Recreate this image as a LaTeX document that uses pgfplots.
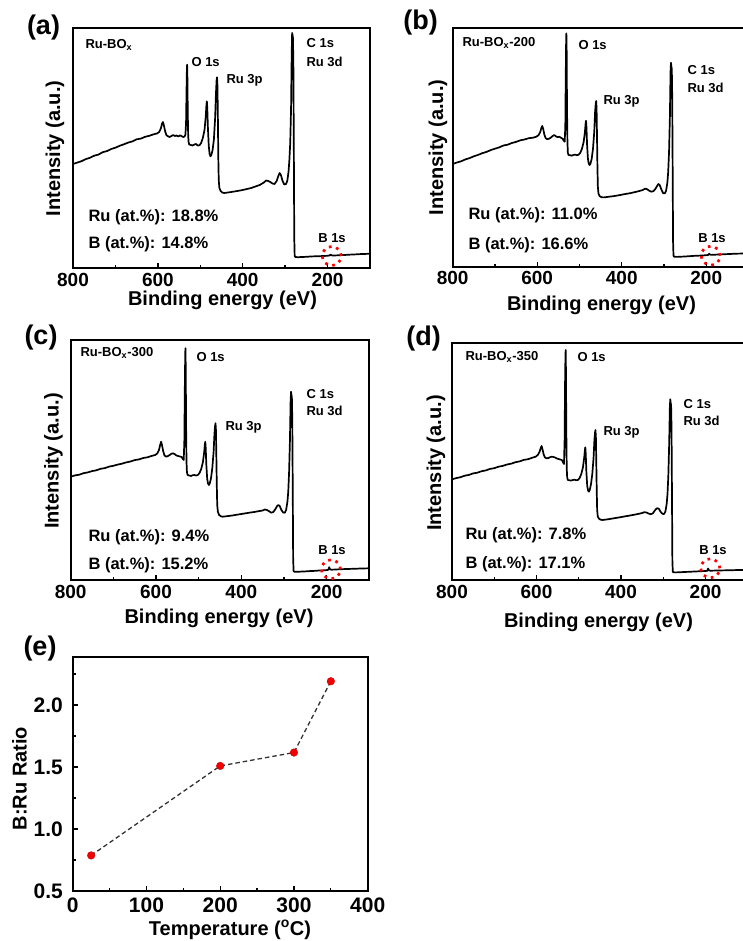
\documentclass[border=0pt]{standalone}
\usepackage{fontspec}
\setmainfont{Liberation Sans}
\usepackage{pgfplots}
\pgfplotsset{compat=1.18}
\newcommand{\fs}[1]{\fontsize{#1}{#1}\selectfont\bfseries}
\pgfplotsset{
  spec/.style={
    scale only axis, anchor=south west,
    x dir=reverse, xmin=100, xmax=800, ymin=0,
    xtick={200,400,600,800}, minor xtick={300,500,700}, ytick=\empty,
    xtick pos=lower, tick align=inside,
    major tick length=5pt, minor tick length=3pt,
    every tick/.append style={line width=1.3pt, black},
    axis line style={line width=1.7pt},
    xticklabel style={font=\fs{19}, inner sep=0pt, yshift=-4.7pt},
    /pgf/number format/assume math mode=true,
    clip=true,
  },
  spectrum/.style={black, line width=1.7pt, line join=round, no marks},
}
\tikzset{ring/.style={red, line width=2.7pt, dash pattern=on 2.7pt off 4.8pt}}
\begin{document}
\begin{tikzpicture}
\useasboundingbox (0pt,0pt) rectangle (743pt,-941pt);
\clip (0pt,0pt) rectangle (743pt,-941pt);
% ---------------- (a)
\begin{axis}[spec, at={(73pt,-268pt)}, width=297pt, height=239.7pt, ymax=239.7]
\addplot[spectrum] table {
800 104.0
790 105.4
780 106.8
770 108.9
760 110.2
750 112.3
740 113.4
730 115.8
720 116.9
710 119.0
700 120.3
690 122.2
680 123.7
670 125.4
660 126.6
650 128.7
640 129.4
630 131.2
620 132.2
610 133.7
602 134.5
597 136.0
593 139.5
590 144.5
588 146.0
586 143.0
583 137.0
580 133.0
576 131.7
572 131.0
568 132.0
564 133.0
560 132.0
556 132.5
552 131.5
548 132.6
544 131.8
540 131.0
537 131.5
535 133.5
533.5 145
532.5 175
531.5 200
531 203.3
530.3 190
529.5 155
528.5 132
527.5 126
526 123.5
522 123.0
518 122.5
514 123.5
510 124.0
506 122.5
502 122.7
498 125.0
494 130.0
490 138.0
487 152.0
485.5 163.0
484.5 166.7
483.5 160.0
482 140.0
480 122.0
478 114.0
476 111.7
474 113.0
471 118.0
468 128.0
465 150.0
463 175.0
461.5 188.0
460.5 190.7
459.5 182.0
458.5 150.0
457.5 110.0
456.5 88.0
455 80.0
452 77.0
448 75.5
444 75.0
440 75.2
430 75.8
420 76.5
410 77.2
400 78.0
390 79.0
380 80.0
370 81.5
360 83.0
350 85.5
345 87.5
340 87.0
335 86.0
330 84.5
325 84.0
320 87.0
316 92.0
313 95.0
310 93.0
306 87.0
302 83.5
298 84.0
295 87.0
292 96.0
290 108.0
288 125.0
286 160.0
284.5 215.0
283.5 235.0
282.5 233.0
281.5 230.0
280.5 200.0
279.5 120.0
278.5 30.0
277.5 12.0
276 11.0
270 10.8
260 11.0
250 11.2
240 11.5
230 11.7
220 11.8
210 12.0
200 12.2
195 12.6
193 13.5
191 12.8
188 12.4
180 12.6
170 12.8
160 13.0
150 13.3
140 13.5
130 13.7
120 14.0
110 14.1
100 14.3
};
\end{axis}
% ---------------- (b)
\begin{axis}[spec, at={(452.7pt,-266.7pt)}, width=295.8pt, height=238.4pt, ymax=238.4]
\addplot[spectrum] table {
800 102.7
790 104.2
780 105.4
770 107.3
760 108.6
750 110.4
740 111.8
730 113.5
720 114.8
710 116.6
700 118.0
690 119.3
680 121.2
670 122.0
660 123.7
650 124.8
640 126.4
630 127.2
620 128.5
610 129.0
602 130.0
597 131.5
593 134.5
590 139.0
588 140.7
586 138.0
583 132.0
580 128.5
576 127.5
572 128.0
568 129.0
564 130.5
560 131.7
556 130.5
552 129.5
548 130.0
544 129.0
540 128.0
537 126.0
535 125.0
533.5 140
532.5 190
531.5 228
531 233.3
530.3 215
529.5 160
528.5 125
527.5 114
526 111.7
522 111.5
518 111.0
514 111.8
510 112.0
506 111.5
502 112.0
498 114.0
494 118.0
490 125.0
487 135.0
485.5 143.0
484.5 146.0
483.5 140.0
482 122.0
480 108.0
478 103.0
476 101.7
474 103.0
471 108.0
468 118.0
465 135.0
463 155.0
461.5 163.0
460.5 165.7
459.5 158.0
458.5 130.0
457.5 100.0
456.5 80.0
455 73.0
452 70.5
448 69.5
444 69.3
440 69.4
430 70.0
420 70.5
410 71.2
400 72.0
390 72.8
380 73.5
370 74.5
360 75.5
350 76.7
345 78.0
340 77.5
335 76.0
330 75.0
325 75.5
320 78.0
316 81.0
313 82.7
310 81.5
306 77.0
302 73.5
298 73.3
295 76.0
292 84.0
290 95.0
288 115.0
286 150.0
284.5 195.0
283.5 204.0
282.5 200.0
281.5 198.0
280.5 170.0
279.5 100.0
278.5 25.0
277.5 11.0
276 10.0
270 9.8
260 10.0
250 10.2
240 10.5
230 10.8
220 11.0
210 11.2
200 11.5
195 11.8
193 13.0
191 12.2
188 11.8
180 12.0
170 12.2
160 12.4
150 12.6
140 12.8
130 13.0
120 13.1
110 13.2
100 13.3
};
\end{axis}
% ---------------- (c)
\begin{axis}[spec, at={(70.7pt,-580pt)}, width=298.6pt, height=240pt, ymax=240]
\addplot[spectrum] table {
800 103.3
790 104.6
780 105.3
770 106.8
760 107.6
750 108.9
740 109.7
730 111.2
720 111.9
710 113.4
700 114.2
690 115.4
680 116.3
670 117.6
660 118.5
650 119.9
640 120.6
630 122.0
620 122.7
610 124.1
602 125.0
597 126.5
593 130.0
590 135.5
588 138.3
586 135.0
583 128.5
580 124.5
576 123.3
572 124.0
568 125.0
564 126.2
560 126.7
556 125.8
552 124.5
548 124.0
544 123.5
540 123.0
537 121.0
535 120.0
533.5 140
532.5 190
531.5 226
531 231.7
530.3 212
529.5 155
528.5 118
527.5 108
526 105.0
522 104.5
518 104.0
514 104.8
510 105.0
506 104.5
502 105.0
498 107.0
494 111.0
490 118.0
487 128.0
485.5 135.5
484.5 138.3
483.5 132.0
482 115.0
480 101.0
478 96.5
476 95.0
474 96.5
471 102.0
468 112.0
465 128.0
463 146.0
461.5 154.0
460.5 156.7
459.5 150.0
458.5 122.0
457.5 95.0
456.5 75.0
455 68.3
452 65.0
448 63.8
444 63.3
440 63.5
430 64.0
420 64.6
410 65.3
400 66.0
390 66.7
380 67.4
370 68.0
360 68.8
350 69.5
345 70.5
340 70.0
335 68.8
330 67.3
325 68.0
320 71.0
316 74.0
313 75.0
310 74.0
306 70.0
302 67.5
298 67.3
295 70.0
292 78.0
290 88.0
288 108.0
286 140.0
284.5 178.0
283.5 188.3
282.5 185.0
281.5 183.0
280.5 160.0
279.5 95.0
278.5 22.0
277.5 9.0
276 8.3
270 8.2
260 8.4
250 8.6
240 8.9
230 9.1
220 9.4
210 9.6
200 9.9
196 10.2
194 12.8
192 10.6
188 10.3
180 10.5
170 10.7
160 10.9
150 11.0
140 11.2
130 11.3
120 11.5
110 11.6
100 11.7
};
\end{axis}
% ---------------- (d)
\begin{axis}[spec, at={(452pt,-580pt)}, width=295.8pt, height=237.3pt, ymax=237.3]
\addplot[spectrum] table {
800 100.7
790 101.9
780 102.8
770 104.3
760 105.1
750 106.6
740 107.3
730 108.8
720 109.6
710 111.1
700 111.8
690 113.3
680 114.1
670 115.5
660 116.3
650 117.8
640 118.6
630 120.1
620 120.8
610 122.3
602 123.3
597 125.0
593 128.0
590 132.0
588 134.0
586 131.0
583 125.5
580 122.5
576 121.7
572 122.0
568 122.8
564 123.3
560 123.0
556 122.5
552 121.5
548 121.0
544 120.5
540 120.0
537 117.5
535 116.0
533.5 140
532.5 195
531.5 225
531 230
530.3 208
529.5 150
528.5 112
527.5 103
526 100.0
522 99.7
518 99.5
514 100.0
510 100.3
506 99.8
502 100.0
498 102.0
494 106.0
490 113.0
487 123.0
485.5 130.0
484.5 132.7
483.5 126.0
482 108.0
480 94.0
478 89.5
476 88.3
474 90.0
471 96.0
468 106.0
465 122.0
463 140.0
461.5 147.5
460.5 150.0
459.5 143.0
458.5 116.0
457.5 90.0
456.5 70.0
455 63.3
452 61.2
448 60.3
444 60.0
440 60.2
430 60.8
420 61.5
410 62.2
400 62.9
390 63.7
380 64.4
370 65.2
360 66.0
350 67.0
345 67.8
340 67.5
335 66.5
330 65.8
325 66.5
320 69.5
316 71.5
313 71.7
310 71.0
306 68.0
302 66.2
298 66.0
295 68.5
292 76.0
290 86.0
288 105.0
286 137.0
284.5 172.0
283.5 180.7
282.5 177.0
281.5 175.0
280.5 152.0
279.5 90.0
278.5 20.0
277.5 8.2
276 7.7
270 7.6
260 7.8
250 8.0
240 8.2
230 8.4
220 8.6
210 8.8
200 9.0
196 9.2
194 11.5
192 9.6
188 9.3
180 9.4
170 9.5
160 9.6
150 9.7
140 9.8
130 9.9
120 10.0
110 10.0
100 10.0
};
\end{axis}
% ---------------- (e)
\begin{axis}[scale only axis, anchor=south west, at={(72.7pt,-891pt)},
  width=295pt, height=234.3pt,
  xmin=0, xmax=400, ymin=0.5, ymax=2.39,
  xtick={0,100,200,300,400}, minor xtick={50,150,250,350},
  ytick={0.5,1.0,1.5,2.0}, minor ytick={0.75,1.25,1.75,2.25},
  xtick pos=lower, ytick pos=left, tick align=inside,
  major tick length=5pt, minor tick length=3pt,
  every tick/.append style={line width=1.3pt, black},
  axis line style={line width=1.7pt},
  xticklabel style={font=\fs{21}, inner sep=0pt, yshift=-7pt},
  yticklabel style={font=\fs{21}, inner sep=0pt, xshift=-9.7pt,
    /pgf/number format/.cd, fixed, fixed zerofill, precision=1},
  /pgf/number format/assume math mode=true,
  clip=false]
\addplot[draw=black!80, line width=1.3pt, dash pattern=on 4.5pt off 3pt,
  mark=*, mark size=3.8pt, mark options={solid, fill=red!95!black, draw=red!80!black, line width=0.4pt}]
  coordinates {(25,0.787) (200,1.509) (300,1.617) (350,2.192)};
\end{axis}
% ---------------- texts (a)
\node[font=\fs{27}] at (43.5pt,-28pt) {(a)};
\node[font=\fs{13}, anchor=west] at (82pt,-45pt) {Ru-BO\textsubscript{x}};
\node[font=\fs{13}, anchor=west] at (188pt,-62pt) {O 1s};
\node[font=\fs{13}, anchor=west] at (223pt,-80pt) {Ru 3p};
\node[font=\fs{13}, anchor=west] at (303pt,-43pt) {C 1s};
\node[font=\fs{13}, anchor=west] at (303pt,-62pt) {Ru 3d};
\node[font=\fs{16.5}, anchor=west] at (85pt,-217.5pt) {Ru (at.\%): 18.8\%};
\node[font=\fs{16.5}, anchor=west] at (85pt,-244.5pt) {B (at.\%): 14.8\%};
\node[font=\fs{13}] at (332pt,-238pt) {B 1s};
\draw[ring] (331.7pt,-256pt) circle (9.5pt);
\node[font=\fs{20}, rotate=90] at (55pt,-148.5pt) {Intensity (a.u.)};
\node[font=\fs{20}] at (222.5pt,-300pt) {Binding energy (eV)};
% ---------------- texts (b)
\node[font=\fs{27}] at (420.5pt,-23pt) {(b)};
\node[font=\fs{13}, anchor=west] at (459pt,-43pt) {Ru-BO\textsubscript{x}-200};
\node[font=\fs{13}, anchor=west] at (575pt,-45pt) {O 1s};
\node[font=\fs{13}, anchor=west] at (600pt,-101pt) {Ru 3p};
\node[font=\fs{13}, anchor=west] at (684pt,-70pt) {C 1s};
\node[font=\fs{13}, anchor=west] at (684pt,-87.5pt) {Ru 3d};
\node[font=\fs{16.5}, anchor=west] at (465pt,-215.5pt) {Ru (at.\%): 11.0\%};
\node[font=\fs{16.5}, anchor=west] at (465pt,-245pt) {B (at.\%): 16.6\%};
\node[font=\fs{13}] at (712pt,-238pt) {B 1s};
\draw[ring] (710.7pt,-255.7pt) circle (9.5pt);
\node[font=\fs{20}, rotate=90] at (438pt,-147.5pt) {Intensity (a.u.)};
\node[font=\fs{20}] at (601.5pt,-305pt) {Binding energy (eV)};
% ---------------- texts (c)
\node[font=\fs{27}] at (41pt,-338pt) {(c)};
\node[font=\fs{13}, anchor=west] at (77pt,-353pt) {Ru-BO\textsubscript{x}-300};
\node[font=\fs{13}, anchor=west] at (193pt,-357.5pt) {O 1s};
\node[font=\fs{13}, anchor=west] at (222pt,-427.5pt) {Ru 3p};
\node[font=\fs{13}, anchor=west] at (303pt,-394pt) {C 1s};
\node[font=\fs{13}, anchor=west] at (303pt,-411pt) {Ru 3d};
\node[font=\fs{16.5}, anchor=west] at (85pt,-537.5pt) {Ru (at.\%): 9.4\%};
\node[font=\fs{16.5}, anchor=west] at (85pt,-565pt) {B (at.\%): 15.2\%};
\node[font=\fs{13}] at (332pt,-550pt) {B 1s};
\draw[ring] (331pt,-569.3pt) circle (9.5pt);
\node[font=\fs{20}, rotate=90] at (53.5pt,-461pt) {Intensity (a.u.)};
\node[font=\fs{20}] at (219pt,-618pt) {Binding energy (eV)};
% ---------------- texts (d)
\node[font=\fs{27}] at (423.5pt,-339pt) {(d)};
\node[font=\fs{13}, anchor=west] at (462pt,-357pt) {Ru-BO\textsubscript{x}-350};
\node[font=\fs{13}, anchor=west] at (574pt,-357pt) {O 1s};
\node[font=\fs{13}, anchor=west] at (600pt,-432.5pt) {Ru 3p};
\node[font=\fs{13}, anchor=west] at (680pt,-404pt) {C 1s};
\node[font=\fs{13}, anchor=west] at (680pt,-421pt) {Ru 3d};
\node[font=\fs{16.5}, anchor=west] at (462pt,-535pt) {Ru (at.\%): 7.8\%};
\node[font=\fs{16.5}, anchor=west] at (462pt,-564pt) {B (at.\%): 17.1\%};
\node[font=\fs{13}] at (713pt,-550pt) {B 1s};
\draw[ring] (710.3pt,-568.3pt) circle (9.5pt);
\node[font=\fs{20}, rotate=90] at (436pt,-463pt) {Intensity (a.u.)};
\node[font=\fs{20}] at (598.5pt,-622.5pt) {Binding energy (eV)};
% ---------------- texts (e)
\node[font=\fs{27}] at (40pt,-648.5pt) {(e)};
\node[font=\fs{20}, rotate=90] at (19.5pt,-778.5pt) {B:Ru Ratio};
\node[font=\fs{20}] at (230pt,-930pt) {Temperature (\textsuperscript{o}C)};
\end{tikzpicture}
\end{document}
